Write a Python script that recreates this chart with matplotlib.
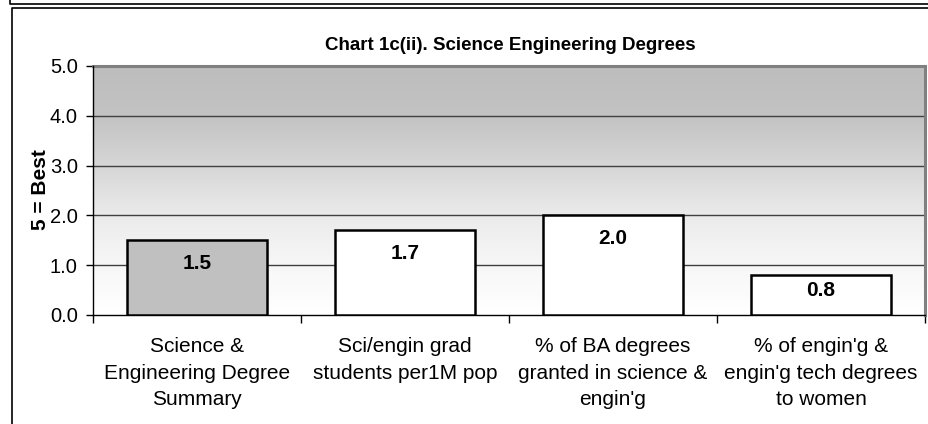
import numpy as np
import matplotlib
matplotlib.use("Agg")
import matplotlib.pyplot as plt
from matplotlib.colors import LinearSegmentedColormap
from matplotlib.lines import Line2D

plt.rcParams["font.family"] = ["Liberation Sans", "DejaVu Sans"]

# ---------------------------------------------------------------------------
# data
# ---------------------------------------------------------------------------
TITLE = "Chart 1c(ii). Science Engineering Degrees"
Y_LABEL = "5 = Best"
CATEGORIES = [
    "Science &\nEngineering Degree\nSummary",
    "Sci/engin grad\nstudents per1M pop",
    "% of BA degrees\ngranted in science &\nengin'g",
    "% of engin'g &\nengin'g tech degrees\nto women",
]
VALUES = [1.5, 1.7, 2.0, 0.8]
BAR_COLORS = ["#c0c0c0", "#ffffff", "#ffffff", "#ffffff"]
Y_TICKS = [0.0, 1.0, 2.0, 3.0, 4.0, 5.0]

W, H = 929, 424
fig = plt.figure(figsize=(W / 100, H / 100), dpi=100)

# outer frames (bottom of previous chart + this chart's frame)
fig.add_artist(Line2D([10 / W, 10 / W, 1], [1, 1 - 4 / H, 1 - 4 / H],
                      transform=fig.transFigure, color="black", lw=1.2))
fig.add_artist(Line2D([12 / W, 12 / W, 1], [0, 1 - 8 / H, 1 - 8 / H],
                      transform=fig.transFigure, color="black", lw=1.2))

ax = fig.add_axes([93 / W, (H - 315) / H, 832 / W, 249 / H])
n = len(VALUES)
x = np.arange(n)
ax.set_xlim(-0.5, n - 0.5)
ax.set_ylim(0, 5)

# gradient plot-area background
cmap = LinearSegmentedColormap.from_list(
    "bg", [(0.0, "#ffffff"), (0.2, "#f7f7f7"), (0.4, "#ebebeb"),
           (0.6, "#d6d6d6"), (0.8, "#c3c3c3"), (1.0, "#bdbdbd")])
grad = np.linspace(0, 1, 256).reshape(-1, 1)
ax.imshow(grad, extent=(-0.5, n - 0.5, 0, 5), origin="lower", cmap=cmap,
          aspect="auto", zorder=0)

# gridlines
for yv in Y_TICKS[1:-1]:
    ax.axhline(yv, color="#404040", lw=1.0, zorder=1)

bars = ax.bar(x, VALUES, width=0.67, color=BAR_COLORS, edgecolor="black",
              linewidth=1.8, zorder=3)

# data labels, Excel-style "inside end"
px_per_unit = ax.transData.transform((0, 1))[1] - ax.transData.transform((0, 0))[1]
for xi, v in zip(x, VALUES):
    off_px = min(23, v * px_per_unit / 2 - 5)
    ax.annotate(f"{v:.1f}", xy=(xi, v), xytext=(0, -off_px * 0.72),
                textcoords="offset points", ha="center", va="center",
                fontsize=15, fontweight="bold", zorder=4)

# spines
for side in ("top", "right"):
    ax.spines[side].set_color("#808080")
    ax.spines[side].set_linewidth(2.2)
for side in ("left", "bottom"):
    ax.spines[side].set_color("black")
    ax.spines[side].set_linewidth(1.0)
ax.spines["left"].set_zorder(5)

# y axis
ax.set_yticks(Y_TICKS)
ax.set_yticklabels([f"{t:.1f}" for t in Y_TICKS], fontsize=14.5)
ax.tick_params(axis="y", direction="out", length=5, width=1, pad=6)

# x axis: tick marks at category boundaries, labels in between
ax.set_xticks(np.arange(-0.5, n, 1.0))
ax.set_xticklabels([])
ax.tick_params(axis="x", which="major", direction="out", length=6, width=1)
ax.set_xticks(x, minor=True)
ax.set_xticklabels(CATEGORIES, minor=True, fontsize=15)
ax.tick_params(axis="x", which="minor", length=0, pad=16)
for lab in ax.get_xticklabels(minor=True):
    lab.set_linespacing(1.5)

fig.text(510 / W, 1 - 46 / H, TITLE, ha="center", va="center",
         fontsize=13.5, fontweight="bold")
fig.text(41 / W, 1 - 190 / H, Y_LABEL, ha="center", va="center",
         rotation=90, fontsize=15, fontweight="bold")

fig.savefig("out.png", dpi=100)
